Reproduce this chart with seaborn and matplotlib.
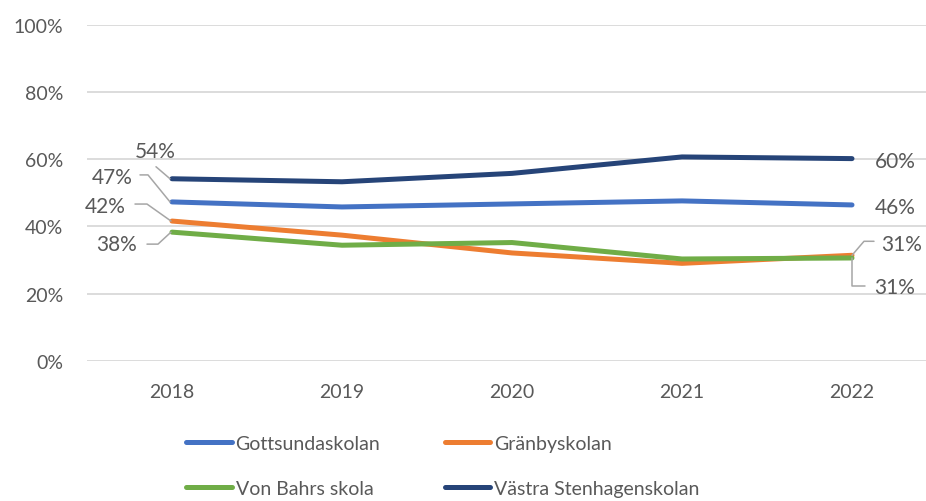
import numpy as np
import pandas as pd
import seaborn as sns
import matplotlib.pyplot as plt
import matplotlib.transforms as mtransforms

# === data ===
years = ["2018", "2019", "2020", "2021", "2022"]
gottsunda = [47.3, 45.8, 46.7, 47.6, 46.4]
granby = [41.6, 37.4, 32.1, 29.0, 31.4]
von_bahrs = [38.3, 34.4, 35.2, 30.3, 30.6]
vastra = [54.2, 53.3, 55.8, 60.7, 60.2]

schools = ["Gottsundaskolan", "Gränbyskolan", "Von Bahrs skola", "Västra Stenhagenskolan"]
colors = ["#4472C4", "#ED7D31", "#70AD47", "#264478"]

df = pd.DataFrame({
    "year": years * 4,
    "value": gottsunda + granby + von_bahrs + vastra,
    "school": np.repeat(schools, len(years)),
})

# === style ===
sns.set_theme(style="white")
plt.rcParams["font.family"] = ["Lato", "DejaVu Sans"]
text_col = "#595959"
grid_col = "#D9D9D9"
fs = 14

fig = plt.figure(figsize=(9.26, 5.02), dpi=100)
W, H = 926, 502
# plot area: left 87px, 0% at 361.7px, 100% at 26px; categories 170px wide
ax = fig.add_axes([87 / W, (H - 361.7) / H, 850 / W, (361.7 - 26) / H])

sns.lineplot(data=df, x="year", y="value", hue="school", palette=colors,
             linewidth=3.6, legend=False, ax=ax, solid_capstyle="round")

ax.set_xlim(-0.5, 4.5)
ax.set_ylim(0, 100)
ax.set_yticks(range(0, 101, 20))
ax.set_yticklabels([f"{v}%" for v in range(0, 101, 20)])
ax.yaxis.grid(True, color=grid_col, linewidth=1.3)
ax.set_axisbelow(True)
for s in ax.spines.values():
    s.set_visible(False)
ax.tick_params(axis="y", length=0, pad=17, labelsize=fs, labelcolor=text_col)
ax.tick_params(axis="x", length=0, pad=16, labelsize=fs, labelcolor=text_col)
ax.set_xlabel("")
ax.set_ylabel("")

# === data labels with leader lines (offsets in pixels from the point) ===
leader_col = "#A6A6A6"


def label(xi, val, text, dx, dy, path=None):
    ax.annotate(text, xy=(xi, val), xytext=(dx, dy), textcoords="offset pixels",
                ha="center", va="center", fontsize=fs + 1, color=text_col)
    if path:
        tr = mtransforms.IdentityTransform() + mtransforms.ScaledTranslation(xi, val, ax.transData)
        px, py = zip(*path)
        ax.plot(px, py, color=leader_col, linewidth=1.1, transform=tr, clip_on=False)


label(0, vastra[0], f"{vastra[0]:.0f}%", -17, 28, [(-16, 12), (-2, 0)])
label(0, gottsunda[0], f"{gottsunda[0]:.0f}%", -60, 25, [(-32, 27), (-24, 27), (-2, 0)])
label(0, granby[0], f"{granby[0]:.0f}%", -67, 15, [(-37, 17), (-25, 17), (-1, 0)])
label(0, von_bahrs[0], f"{von_bahrs[0]:.0f}%", -55, -12, [(-25, -12), (-14, -12), (-1, 0)])

label(4, vastra[4], f"{vastra[4]:.0f}%", 43, -2)
label(4, gottsunda[4], f"{gottsunda[4]:.0f}%", 43, -2)
label(4, granby[4], f"{granby[4]:.0f}%", 50, 11, [(0, 0), (12, 14), (22, 14)])
label(4, von_bahrs[4], f"{von_bahrs[4]:.0f}%", 43, -29, [(0, 0), (0, -28), (13, -28)])

# === legend (row-major order like the original) ===
handles = [plt.Line2D([], [], color=c, linewidth=3.6, solid_capstyle="round") for c in colors]
order = [0, 2, 1, 3]
fig.legend([handles[i] for i in order], [schools[i] for i in order], ncol=2, loc="upper left",
           bbox_to_anchor=(186 / W, 1 - 436 / H), frameon=False,
           fontsize=fs, labelcolor=text_col, handlelength=2.35, handletextpad=0.2,
           columnspacing=3.3, labelspacing=1.42, borderpad=0, borderaxespad=0)

fig.savefig("out.png", dpi=100)
